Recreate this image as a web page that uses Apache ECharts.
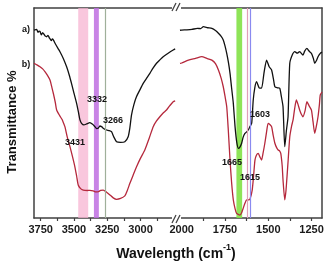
<!DOCTYPE html>
<html><head><meta charset="utf-8">
<script src="https://cdn.jsdelivr.net/npm/echarts@6/dist/echarts.min.js"></script>
<style>html,body{margin:0;padding:0;background:#fff}#c{width:328px;height:265px}</style>
</head><body><div id="c"></div>
<script>
const blackHigh = [[3800,89.5],[3780,89.8],[3770,88.4],[3762,89.0],[3755,88.9],[3745,87.2],[3735,88.3],[3725,87.5],[3715,86.6],[3705,86.3],[3695,87.0],[3685,85.8],[3670,84.5],[3662,85.3],[3655,84.8],[3640,83.0],[3620,80.8],[3605,79.2],[3580,76],[3555,72],[3535,68],[3518,64],[3500,59.5],[3480,54.6],[3465,50],[3455,46.7],[3443,45.1],[3425,44.3],[3405,44.8],[3380,45.4],[3360,44.6],[3343,43.5],[3330,42.6],[3318,42.7],[3305,43.8],[3293,43.5],[3275,42.5],[3255,41.9],[3235,41.6],[3218,41.1],[3200,38.5],[3180,36.3],[3150,36.0],[3118,36.3],[3093,38.7],[3080,43],[3068,49],[3050,54],[3030,57.8],[3005,61],[2980,64.1],[2955,66.5],[2930,68.9],[2905,71.5],[2880,73.7],[2855,75.3],[2830,76.8],[2790,78.6],[2755,80],[2740,80.5]];
const redHigh = [[3800,73.7],[3775,72.8],[3755,72],[3735,71],[3718,69.7],[3700,68],[3680,65.7],[3665,62],[3655,59.4],[3640,55],[3630,51.4],[3605,48.5],[3590,47],[3580,45.5],[3568,43.5],[3550,38.5],[3530,34],[3510,29],[3493,24.4],[3480,20],[3468,15.7],[3450,14],[3430,13.3],[3400,13.1],[3380,13.2],[3355,12.9],[3335,12.4],[3318,12.5],[3300,13.1],[3280,13.3],[3255,12.3],[3230,11],[3205,9.6],[3180,8.9],[3150,9.3],[3118,10.5],[3100,13],[3080,16.5],[3055,20.5],[3030,24.4],[3000,28.5],[2968,32.4],[2935,38],[2905,43.5],[2880,46.2],[2855,48.2],[2830,50],[2805,51.4],[2780,53.5],[2755,55.4],[2740,55.8]];
const blackLow = [[2010,89.4],[2000,89.5],[1970,89.6],[1941,89.8],[1910,90.3],[1890,90.2],[1875,91.1],[1850,90.6],[1826,90.3],[1805,89.3],[1788,88],[1772,86.5],[1760,84.8],[1750,82],[1740,78.4],[1730,74],[1721,68.9],[1712,62],[1702,54.6],[1692,43.5],[1682,36],[1673,33.2],[1664,33.8],[1654,35.6],[1645,38.5],[1635,40.3],[1625,41],[1616,41.9],[1606,43.5],[1596,45.1],[1587,56.2],[1578,62],[1568,64.9],[1553,62],[1539,61.8],[1525,69],[1510,75.2],[1495,72],[1481,70.5],[1470,66],[1462,62.5],[1448,62],[1434,61.8],[1425,58],[1415,53],[1405,34],[1395,42],[1386,48.2],[1376,73.7],[1360,78],[1347,79.2],[1333,78.5],[1319,79.2],[1300,77.6],[1290,79.5],[1277,80.8],[1265,79.5],[1251,78.4],[1240,76],[1232,73.7],[1222,75],[1213,76.8],[1200,78.4],[1190,79]];
const redLow = [[2010,73.6],[2000,73.8],[1961,75.2],[1920,76],[1884,76.8],[1855,76],[1826,75.2],[1805,73.5],[1788,70.5],[1772,66.5],[1760,62.5],[1750,58],[1740,53],[1731,41.9],[1721,27.6],[1712,17],[1702,8.6],[1692,4.5],[1683,2.2],[1664,1.4],[1654,2.5],[1645,4.6],[1635,7],[1625,8.6],[1615,8.6],[1606,8.9],[1593,13.3],[1585,20],[1577,27.6],[1568,30],[1558,30.8],[1548,29],[1539,27.6],[1530,31],[1520,35.6],[1510,41],[1501,45.1],[1491,44.5],[1481,43.5],[1472,39.5],[1462,35.6],[1452,33.5],[1443,32.4],[1435,32],[1428,30.8],[1420,25],[1415,18.1],[1405,8.6],[1398,13],[1392,19.7],[1385,28],[1376,38.7],[1365,44],[1357,46.7],[1348,52],[1338,56.2],[1328,54],[1319,51.4],[1310,49.5],[1300,48.2],[1288,51],[1277,55.4],[1265,53.5],[1251,51.4],[1242,46],[1232,40.3],[1222,44],[1213,48.2],[1205,54],[1200,58.6],[1190,60]];
const highTickLabels = [3750,3500,3250,3000];
const highTicks = [3750,3625,3500,3375,3250,3125,3000,2875];
const lowTickLabels = [2000,1750,1500,1250];
const lowTicks = [1875,1750,1625,1500,1375,1250];
const highBands = [[3468,3393,'rgba(247,180,210,0.75)'],[3350,3313,'rgba(190,110,225,0.85)']];
const highLines = [[3266,'#9fb09a']];
const lowBands = [[1684,1651,'rgba(130,225,70,0.9)']];
const lowLines = [[1622,'#e0a0b8'],[1603,'#8a8af0']];
const peakLabels = [['3332',97,100],['3266',113,121],['3431',75,143],['1603',260,115],['1665',232,163],['1615',250,178]];

const AX = '#404040';
const F = 'Liberation Sans, Arial, sans-serif';
function xAx(gi, min, max, ticks, labels, pos) {
  const top = pos === 'top';
  return {
    type:'value', gridIndex:gi, min:min, max:max, inverse:true, position:pos,
    axisLine:{show:true, onZero:false, lineStyle:{color:AX, width:1.5}},
    axisTick:{show:!top, inside:false, length:3, customValues:ticks, lineStyle:{color:AX, width:1.2}},
    axisLabel:{show:!top, customValues:labels, formatter:v=>String(v), color:'#1a1a1a', fontSize:11, fontWeight:'bold', fontFamily:F, margin:6},
    splitLine:{show:false}
  };
}
function bandArea(bands){ return {silent:true, data: bands.map(b=>[{xAxis:b[0], itemStyle:{color:b[2]}},{xAxis:b[1]}])}; }
function vlines(lines){ return {silent:true, symbol:'none', label:{show:false}, data: lines.map(l=>({xAxis:l[0], lineStyle:{color:l[1], width:1.2, type:'solid'}}))}; }

const opt = {
  animation:false,
  grid:[{left:34, top:8, width:142.5, height:210},{left:176.5, top:8, width:145.5, height:210}],
  xAxis:[xAx(0,2730,3800,highTicks,highTickLabels,'bottom'), xAx(1,1190,2030,lowTicks,lowTickLabels,'bottom'),
         xAx(0,2730,3800,[],[],'top'), xAx(1,1190,2030,[],[],'top')],
  yAxis:[{type:'value', gridIndex:0, min:0, max:100, axisLine:{show:true, lineStyle:{color:AX,width:1.5}}, axisTick:{show:false}, axisLabel:{show:false}, splitLine:{show:false}},
         {type:'value', gridIndex:1, min:0, max:100, position:'right', axisLine:{show:true, lineStyle:{color:AX,width:1.5}}, axisTick:{show:false}, axisLabel:{show:false}, splitLine:{show:false}}],
  series:[
    {type:'line', xAxisIndex:0, yAxisIndex:0, data:[], markArea:bandArea(highBands), markLine:vlines(highLines), z:1},
    {type:'line', xAxisIndex:1, yAxisIndex:1, data:[], markArea:bandArea(lowBands), markLine:vlines(lowLines), z:1},
    {type:'line', xAxisIndex:0, yAxisIndex:0, data:blackHigh, showSymbol:false, smooth:0.2, lineStyle:{color:'#111', width:1.3}, z:3},
    {type:'line', xAxisIndex:0, yAxisIndex:0, data:redHigh, showSymbol:false, smooth:0.2, lineStyle:{color:'#b5283c', width:1.3}, z:3},
    {type:'line', xAxisIndex:1, yAxisIndex:1, data:blackLow, showSymbol:false, smooth:0.2, lineStyle:{color:'#111', width:1.3}, z:3},
    {type:'line', xAxisIndex:1, yAxisIndex:1, data:redLow, showSymbol:false, smooth:0.2, lineStyle:{color:'#b5283c', width:1.3}, z:3}
  ],
  graphic:[].concat(
    peakLabels.map(p=>({type:'text', x:p[1], y:p[2], z:10, style:{text:p[0], fill:'#111', font:'bold 9px '+F, textAlign:'center', textVerticalAlign:'middle'}})),
    [
      {type:'text', x:26, y:30, style:{text:'a)', fill:'#111', font:'bold 9px '+F, textAlign:'center', textVerticalAlign:'middle'}},
      {type:'text', x:26, y:65, style:{text:'b)', fill:'#111', font:'bold 9px '+F, textAlign:'center', textVerticalAlign:'middle'}},
      {type:'text', x:12, y:122, rotation:Math.PI/2, style:{text:'Transmittance %', fill:'#111', font:'bold 13px '+F, textAlign:'center', textVerticalAlign:'middle'}},
      {type:'text', x:176, y:252, style:{text:'{a|Wavelength (cm}{s|-1}{a|)}', textAlign:'center', textVerticalAlign:'middle',
        rich:{a:{font:'bold 14px '+F, fill:'#111', lineHeight:18, verticalAlign:'bottom'}, s:{font:'bold 9px '+F, fill:'#111', lineHeight:18, verticalAlign:'top'}}}},
      {type:'rect', shape:{x:172, y:3, width:9, height:8}, style:{fill:'#fff'}, z:20},
      {type:'line', shape:{x1:172, y1:11, x2:176, y2:3}, style:{stroke:AX, lineWidth:1.2}, z:21},
      {type:'line', shape:{x1:176, y1:11, x2:180, y2:3}, style:{stroke:AX, lineWidth:1.2}, z:21},
      {type:'rect', shape:{x:172, y:215, width:9, height:8}, style:{fill:'#fff'}, z:20},
      {type:'line', shape:{x1:172, y1:223, x2:176, y2:215}, style:{stroke:AX, lineWidth:1.2}, z:21},
      {type:'line', shape:{x1:176, y1:223, x2:180, y2:215}, style:{stroke:AX, lineWidth:1.2}, z:21}
    ])
};
const chart = echarts.init(document.getElementById('c'), null, {renderer:'canvas'});
chart.setOption(opt);
</script></body></html>
